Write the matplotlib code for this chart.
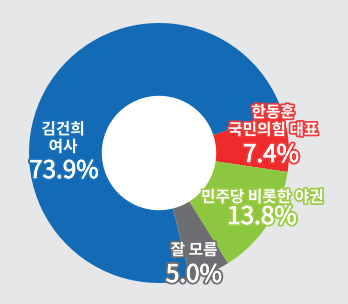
import matplotlib
matplotlib.use("Agg")
import matplotlib.pyplot as plt
import matplotlib.patheffects as pe
from matplotlib.patches import Circle

plt.rcParams["font.family"] = ["Noto Sans CJK KR", "DejaVu Sans"]

# data (clockwise from the gray/blue boundary)
labels = ["김건희\n여사", "한동훈\n국민의힘 대표", "민주당 비롯한 야권", "잘 모름"]
values = [73.9, 7.4, 13.8, 5.0]
colors = ["#136bb5", "#ee2a2a", "#8dc63f", "#6d6e71"]
strokes = ["#1a72bc", "#f03a3a", "#9ccc45", "#6d6e71"]

# layout, in pixels (y measured from the top)
W, H = 348, 304
cx, cy = 159, 153
r_out, r_in = 130, 56.5
label_pos = [(63, 138), (273, 121), (262, 197), (194, 250)]
pct_pos = [(64, 171), (271, 155), (262, 217), (194, 275)]

fig = plt.figure(figsize=(W / 100, H / 100), dpi=100)
fig.patch.set_facecolor("#e6e7e8")
ax = fig.add_axes([0, 0, 1, 1])
ax.set_facecolor("#e6e7e8")

ax.pie(values, colors=colors, startangle=-76, counterclock=False,
       center=(cx, H - cy), radius=r_out,
       wedgeprops=dict(width=r_out - r_in, linewidth=0))
ax.add_patch(Circle((cx, H - cy), r_in, color="white", zorder=3))

for lab, val, sc, (lx, ly), (px, py) in zip(labels, values, strokes, label_pos, pct_pos):
    eff = [pe.withStroke(linewidth=2.5, foreground=sc)]
    ax.text(lx, H - ly, lab, color="white", fontsize=11.3, fontweight="bold",
            ha="center", va="center", linespacing=1.12, path_effects=eff, zorder=5)
    # colored outline, then a thin white stroke to thicken the regular weight
    pct_eff = [pe.withStroke(linewidth=3.2, foreground=sc),
               pe.withStroke(linewidth=0.45, foreground="white")]
    ax.text(px, H - py, f"{val:.1f}%", color="white", fontsize=17.5,
            ha="center", va="center", path_effects=pct_eff, zorder=5)

ax.set_xlim(0, W)
ax.set_ylim(0, H)
ax.set_aspect("equal")
ax.axis("off")

fig.savefig("out.png", dpi=100, facecolor=fig.get_facecolor())
